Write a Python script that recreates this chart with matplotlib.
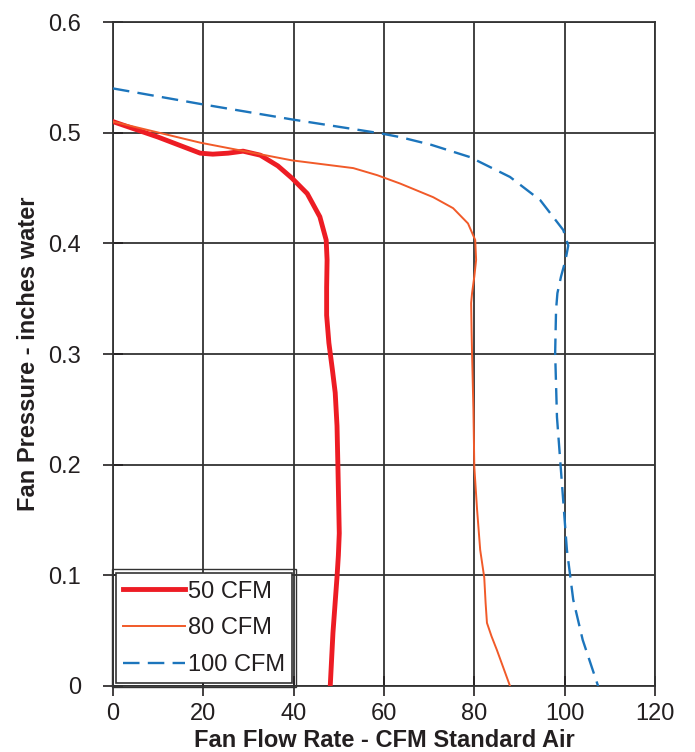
import matplotlib.pyplot as plt
from matplotlib.patches import Rectangle

flow_50 = [0, 10, 19.3, 22.1, 25.5, 28.8, 32.6, 36.5, 39.6, 43.0, 45.8, 47.2, 47.4,
           47.3, 47.3, 47.8, 48.6, 49.2, 49.6, 49.8, 50.1, 49.9, 49.6, 48.7, 48.1]
pres_50 = [0.510, 0.496, 0.4815, 0.4806, 0.4815, 0.4833, 0.4797, 0.470, 0.459, 0.445, 0.424,
           0.403, 0.385, 0.360, 0.335, 0.310, 0.285, 0.265, 0.235, 0.198, 0.138, 0.118,
           0.0985, 0.048, 0.0]

flow_80 = [0, 19.3, 39.6, 53.2, 58.5, 63.6, 70.9, 75.3, 78.6, 80.2, 80.4, 80.0, 79.5, 79.3,
           79.4, 79.5, 79.8, 80.0, 80.6, 81.3, 82.2, 82.5, 82.8, 83.8, 85.0, 87.9]
pres_80 = [0.510, 0.491, 0.475, 0.468, 0.4616, 0.454, 0.4417, 0.4318, 0.418, 0.403, 0.385,
           0.370, 0.355, 0.346, 0.320, 0.300, 0.250, 0.198, 0.160, 0.123, 0.098, 0.075,
           0.057, 0.045, 0.0325, 0.0]

flow_100 = [0, 19.3, 39.6, 59.1, 63.6, 70.5, 79.0, 87.9, 94.6, 99.7, 100.8, 100.2, 99.2,
            98.4, 98.1, 97.9, 98.3, 99.4, 100.5, 101.9, 104.0, 107.4]
pres_100 = [0.540, 0.526, 0.512, 0.4995, 0.496, 0.489, 0.478, 0.460, 0.439, 0.412, 0.398,
            0.385, 0.370, 0.355, 0.340, 0.301, 0.243, 0.183, 0.123, 0.078, 0.0416, 0.0]

x_ticks = [0, 20, 40, 60, 80, 100, 120]
y_ticks = [0, 0.1, 0.2, 0.3, 0.4, 0.5, 0.6]
y_labels = ['0', '0.1', '0.2', '0.3', '0.4', '0.5', '0.6']

plt.rcParams['font.family'] = ['Liberation Sans', 'DejaVu Sans']
text_col = '#231F20'

fig = plt.figure(figsize=(6.95, 7.52), dpi=100)
ax = fig.add_axes([0.1626, 0.0878, 0.7798, 0.8829])

ax.plot(flow_50, pres_50, color='#ED1C24', lw=3.5, label='50 CFM', zorder=3)
ax.plot(flow_80, pres_80, color='#F15A29', lw=1.4, label='80 CFM', zorder=3)
ax.plot(flow_100, pres_100, color='#1C75BC', lw=1.7, dashes=(7, 3.5), label='100 CFM', zorder=3)

ax.set_xlim(0, 120)
ax.set_ylim(0, 0.6)
ax.set_xticks(x_ticks)
ax.set_yticks(y_ticks)
ax.set_yticklabels(y_labels)
ax.tick_params(direction='inout', length=14, width=1.2, labelsize=17, colors=text_col)
ax.tick_params(axis='y', pad=16)
ax.tick_params(axis='x', pad=5)
ax.grid(True, color='#333333', lw=1.3)
for s in ax.spines.values():
    s.set_color('#333333')
    s.set_linewidth(1.3)

ax.set_xlabel('Fan Flow Rate - CFM Standard Air', fontsize=17, fontweight='bold',
              color=text_col, labelpad=3)
ax.set_ylabel('Fan Pressure - inches water', fontsize=17, fontweight='bold',
              color=text_col, labelpad=6)

leg = ax.legend(loc='lower left', fontsize=17, frameon=True, fancybox=False,
                handlelength=2.6, handletextpad=0.15, borderpad=0.3, labelspacing=0.62,
                borderaxespad=0.13, framealpha=1)
leg.get_frame().set_edgecolor('#333333')
leg.get_frame().set_linewidth(1.2)
for t in leg.get_texts():
    t.set_color(text_col)

# двойная рамка легенды
fig.canvas.draw()
bb = leg.get_frame().get_window_extent()
p = 4
(x0, y0), (x1, y1) = fig.transFigure.inverted().transform([[bb.x0 - p, bb.y0 - p],
                                                           [bb.x1 + p, bb.y1 + p]])
fig.add_artist(Rectangle((x0, y0), x1 - x0, y1 - y0, transform=fig.transFigure,
                         fill=False, edgecolor='#333333', lw=1.0, zorder=10))

fig.savefig('out.png', dpi=100)
